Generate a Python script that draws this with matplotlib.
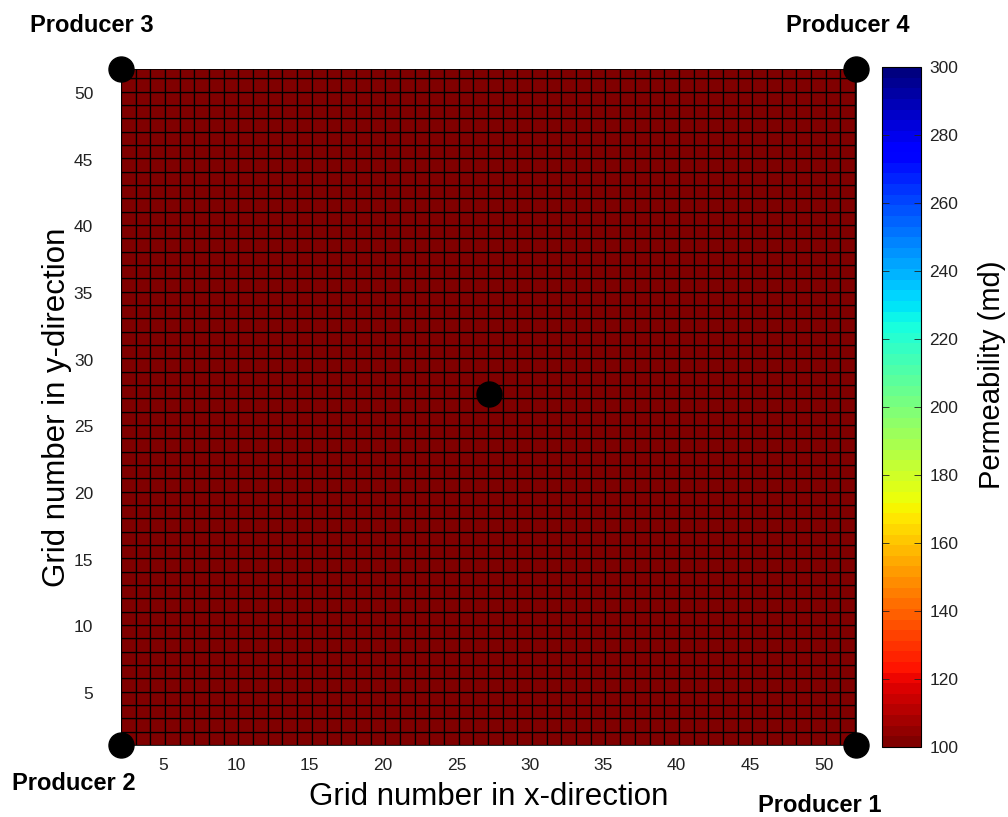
import numpy as np
import matplotlib
matplotlib.use("Agg")
import matplotlib.pyplot as plt
from matplotlib.colors import Normalize

plt.rcParams['font.family'] = ['Liberation Sans', 'DejaVu Sans']

# Reservoir grid: uniform permeability field (md)
grid_x_edges = np.arange(1.15, 53.2, 1.0)
grid_y_edges = np.arange(1.1, 53.1, 1.0)
permeability = np.full((len(grid_y_edges) - 1, len(grid_x_edges) - 1), 100.0)

# Well locations (grid numbers)
well_names = ["Producer 1", "Producer 2", "Producer 3", "Producer 4", "Injector"]
well_x = [52.2, 2.15, 2.15, 52.2, 27.2]
well_y = [1.1, 1.1, 51.8, 51.8, 27.4]

x_ticks = [5, 10, 15, 20, 25, 30, 35, 40, 45, 50]
y_ticks = [5, 10, 15, 20, 25, 30, 35, 40, 45, 50]
cbar_ticks = [100, 120, 140, 160, 180, 200, 220, 240, 260, 280, 300]
perm_min, perm_max = 100, 300

fig = plt.figure(figsize=(10.08, 8.17), dpi=100)
ax = fig.add_axes([0.12, 0.0881, 0.729, 0.8274])
cax = fig.add_axes([0.875, 0.0857, 0.0387, 0.832])

cmap = plt.get_cmap('jet_r', 64)
norm = Normalize(vmin=perm_min, vmax=perm_max)
mesh = ax.pcolormesh(grid_x_edges, grid_y_edges, permeability, cmap=cmap, norm=norm,
                     edgecolors='black', linewidth=0.9, antialiased=True)

ax.plot(well_x, well_y, 'o', color='black', markersize=18, clip_on=False, zorder=5)

ax.set_xlim(min(well_x), max(well_x))
ax.set_ylim(min(well_y), max(well_y))
ax.set_xticks(x_ticks)
ax.set_yticks(y_ticks)
ax.tick_params(axis='both', length=0, labelsize=12.5, colors='#222222')
ax.tick_params(axis='x', pad=9)
ax.tick_params(axis='y', pad=20)
for s in ax.spines.values():
    s.set_linewidth(0.6)

ax.set_xlabel("Grid number in x-direction", fontsize=22.5, labelpad=7)
ax.set_ylabel("Grid number in y-direction", fontsize=22.5, labelpad=1)

cb = fig.colorbar(mesh, cax=cax, ticks=cbar_ticks)
cb.outline.set_linewidth(0.8)
cax.tick_params(axis='y', direction='in', length=5, width=0.6, labelsize=12.5, pad=6,
                left=True, right=True, colors='#222222')

# Colour-bar title
fig.text(992 / 1008, 1 - 375 / 817, "Permeability (md)", fontsize=21, rotation=90,
         ha='center', va='center')

# Producer labels
fig.text(30 / 1008, 1 - 25 / 817, well_names[2], fontsize=17, fontweight='bold', ha='left', va='center')
fig.text(910 / 1008, 1 - 25 / 817, well_names[3], fontsize=17, fontweight='bold', ha='right', va='center')
fig.text(12 / 1008, 1 - 784 / 817, well_names[1], fontsize=17, fontweight='bold', ha='left', va='center')
fig.text(882 / 1008, 1 - 805 / 817, well_names[0], fontsize=17, fontweight='bold', ha='right', va='center')

fig.savefig("out.png", dpi=100)
